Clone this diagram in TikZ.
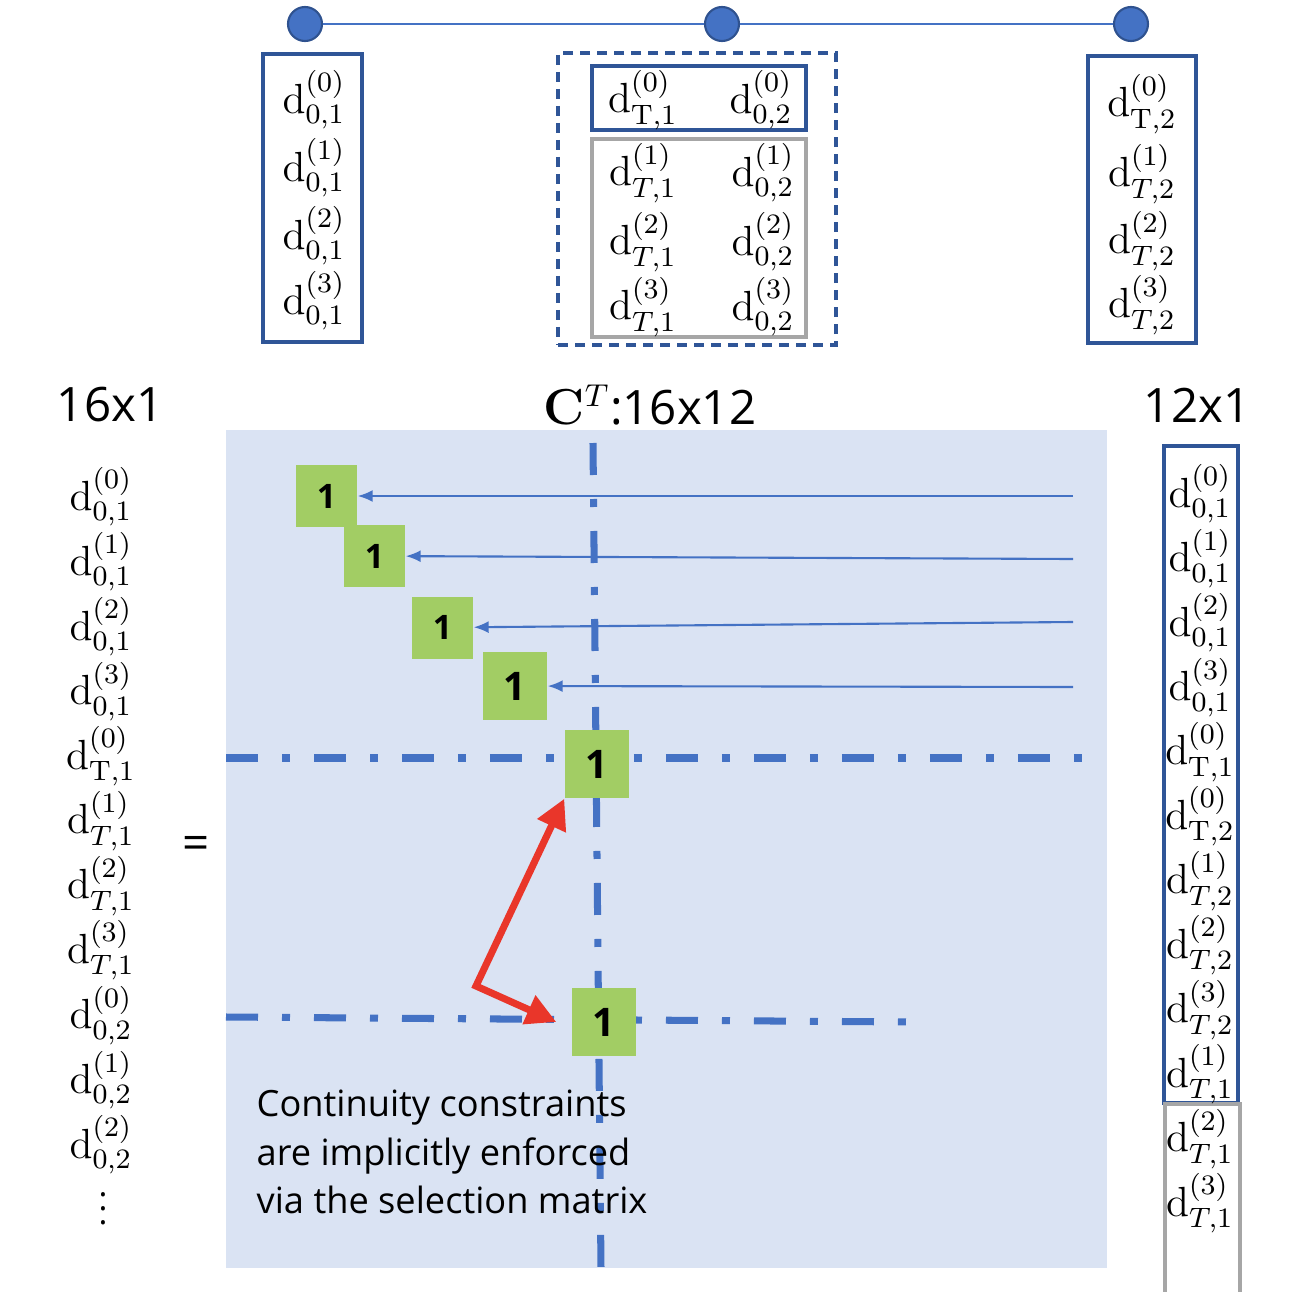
\documentclass[tikz,border=0pt]{standalone}
\usepackage{amsmath}
\usepackage[no-math]{fontspec}
\setmainfont{Open Sans}
\usepackage{tikz}
\usetikzlibrary{arrows.meta,positioning}

\definecolor{ppblue}{HTML}{4472C4}
\definecolor{ppdark}{HTML}{2F5597}
\definecolor{ppknot}{HTML}{2F528F}
\definecolor{ppback}{HTML}{DAE3F3}
\definecolor{ppgreen}{HTML}{A2CD64}
\definecolor{ppred}{HTML}{E9362A}
\definecolor{ppgray}{HTML}{A6A6A6}

\newcommand{\dv}[2]{$\mathrm{d}^{(#1)}_{#2}$}

\begin{document}
\begin{tikzpicture}[
  x=0.1mm, y=-0.1mm,
  knot/.style={circle, fill=ppblue, draw=ppknot, line width=0.6pt, minimum size=3.4mm, inner sep=0pt},
  vecbox/.style={draw=ppdark, line width=0.9pt, inner sep=0pt},
  graybox/.style={draw=ppgray, line width=0.9pt, inner sep=0pt},
  entry/.style={inner sep=0pt, font=\fontsize{12}{14}\selectfont},
  dim/.style={inner sep=0pt, font=\fontsize{13.5}{16}\selectfont},
  onebox/.style={fill=ppgreen, inner sep=0pt, minimum width=6.1mm, minimum height=6.2mm, font=\fontsize{9.6}{11}\selectfont\bfseries},
  bigone/.style={onebox, minimum width=6.4mm, minimum height=6.8mm, font=\fontsize{11.2}{13}\selectfont\bfseries},
  sel/.style={ppblue, line width=0.6pt, -{Latex[length=1.5mm, width=1.2mm]}},
  dashdot/.style={ppblue, line width=2pt, dash pattern=on 3.2mm off 2.4mm on 0.8mm off 2.4mm},
  redarr/.style={ppred, line width=2pt, {Triangle[length=3mm, width=3mm]}-{Triangle[length=3mm, width=3mm]}}
]
\useasboundingbox (0,0) rectangle (1300,1292);

% segments on top
\node[knot] (k1) at (305,24) {};
\node[knot] (k2) at (722,24) {};
\node[knot] (k3) at (1131,24) {};
\draw[ppblue, line width=0.6pt] (k1) -- (k2) -- (k3);

\node[vecbox, minimum width=9.9mm, minimum height=28.8mm] (seg1) at (312.5,198) {};
\foreach \k/\y in {0/100,1/168,2/236,3/301}
  \node[entry] (s1e\k) at (314,\y) {\dv{\k}{0,1}};

\node[draw=ppdark, line width=0.9pt, dash pattern=on 1mm off 0.7mm, minimum width=27.8mm, minimum height=29.2mm] (joint) at (697,199) {};
\node[vecbox, minimum width=21.4mm, minimum height=6.4mm] (shared) at (699,98) {};
\node[graybox, minimum width=21.4mm, minimum height=19.8mm] (rest) at (699,238) {};
\node[entry] (jl0) at (643,100) {\dv{0}{\mathrm{T},1}};
\node[entry] (jr0) at (761,100) {\dv{0}{0,2}};
\foreach \k/\y in {1/173,2/242,3/307} {
  \node[entry] (jl\k) at (643,\y) {\dv{\k}{T,1}};
  \node[entry] (jr\k) at (763,\y) {\dv{\k}{0,2}};
}

\node[vecbox, minimum width=10.8mm, minimum height=28.7mm] (seg2) at (1142,199.5) {};
\node[entry] (s2e0) at (1142,104) {\dv{0}{\mathrm{T},2}};
\foreach \k/\y in {1/174,2/241,3/305}
  \node[entry] (s2e\k) at (1142,\y) {\dv{\k}{T,2}};

% sizes
\node[dim] (lenl) at (110,405) {16x1};
\node[dim] (lenc) at (650,405) {$\mathbf{C}^{T}$:16x12};
\node[dim] (lenr) at (1197,405) {12x1};

% selection matrix
\fill[ppback] (226,430) rectangle (1107,1268);
\draw[dashdot] (593,443) -- (601,1268);
\draw[dashdot] (226,758) -- (1088,758);
\draw[dashdot] (226,1017) -- (910,1022);

\node[onebox] (one1) at (326.5,496) {1};
\node[onebox] (one2) at (374.5,556) {1};
\node[onebox] (one3) at (442.5,627.5) {1};
\node[bigone] (one4) at (515,686) {1};
\node[bigone] (one5) at (597,764) {1};
\node[bigone] (one6) at (604,1022) {1};

\coordinate (src1) at (1073,496);
\coordinate (src2) at (1073,559);
\coordinate (src3) at (1073,622);
\coordinate (src4) at (1073,687);
\draw[sel] (src1) -- (one1);
\draw[sel] (src2) -- (one2);
\draw[sel] (src3) -- (one3);
\draw[sel] (src4) -- (one4);

\coordinate (bend) at (476,986);
\draw[redarr] (one5.south west) -- (bend) -- ([xshift=-1.5mm]one6.west);

\node[font=\fontsize{10.3}{13.7}\selectfont, align=left, anchor=west, inner sep=0pt] (note) at (256,1152) {Continuity constraints\\are implicitly enforced\\via the selection matrix};

% left vector
\node[dim] (eq) at (196,848) {=};
\foreach \k/\s [count=\i from 0] in {0/{0,1},1/{0,1},2/{0,1},3/{0,1},0/{\mathrm{T},1},1/{T,1},2/{T,1},3/{T,1},0/{0,2},1/{0,2},2/{0,2}}
  \node[entry] (lft\i) at (101,{497+64.8*\i}) {\dv{\k}{\s}};
\node[inner sep=0pt, font=\fontsize{9.5}{11}\selectfont] (ldots) at (103,1198) {$\vdots$};

% right vector
\node[vecbox, minimum width=7.4mm, minimum height=65.7mm] (rvec) at (1201,774.5) {};
\draw[ppgray, line width=0.9pt] (1165,1292) |- (1240,1104) -- (1240,1292);
\foreach \k/\s [count=\i from 0] in {0/{0,1},1/{0,1},2/{0,1},3/{0,1},0/{\mathrm{T},1},0/{\mathrm{T},2},1/{T,2},2/{T,2},3/{T,2},1/{T,1},2/{T,1},3/{T,1}}
  \node[entry] (rgt\i) at (1200,{494+64.5*\i}) {\dv{\k}{\s}};
\end{tikzpicture}
\end{document}
